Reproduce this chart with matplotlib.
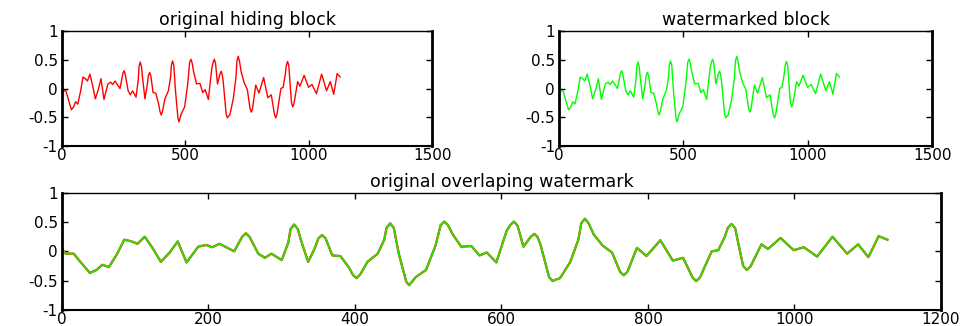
import matplotlib
matplotlib.use("Agg")
import matplotlib.pyplot as plt
from matplotlib.ticker import FixedLocator, FuncFormatter

# Signal samples (index, amplitude)
sample_idx = [1, 5, 16, 25, 38, 47, 55, 64, 75, 85, 95, 103, 113, 124, 135, 147,
              158, 170, 186, 197, 205, 215, 235, 246, 251, 256, 268, 277, 286, 300,
              309, 312, 317, 322, 326, 336, 345, 350, 355, 360, 369, 380, 392, 397,
              402, 407, 417, 431, 440, 443, 448, 453, 460, 470, 474, 483, 497, 510,
              517, 522, 527, 533, 545, 559, 570, 580, 593, 607, 612, 617, 622, 630,
              640, 645, 649, 653, 665, 670, 675, 680, 694, 705, 709, 714, 719, 726,
              738, 751, 762, 767, 772, 785, 798, 817, 834, 848, 861, 866, 871, 887,
              896, 905, 909, 914, 919, 924, 930, 935, 940, 955, 964, 981, 999, 1013,
              1031, 1052, 1072, 1087, 1101, 1115, 1127]
amplitude = [0.02, -0.04, -0.04, -0.18, -0.37, -0.32, -0.23, -0.27, -0.05, 0.20, 0.17,
             0.13, 0.25, 0.05, -0.18, -0.02, 0.17, -0.19, 0.08, 0.11, 0.07, 0.13, 0.00,
             0.25, 0.31, 0.25, -0.04, -0.11, -0.04, -0.15, 0.15, 0.38, 0.46, 0.38, 0.20,
             -0.18, 0.05, 0.22, 0.28, 0.22, -0.07, -0.08, -0.28, -0.40, -0.46, -0.40,
             -0.18, -0.04, 0.20, 0.40, 0.48, 0.40, -0.05, -0.52, -0.58, -0.44, -0.32,
             0.10, 0.45, 0.51, 0.45, 0.30, 0.08, 0.09, -0.07, -0.02, -0.19, 0.35, 0.45,
             0.51, 0.44, 0.08, 0.25, 0.30, 0.25, 0.13, -0.44, -0.51, -0.48, -0.46, -0.18,
             0.20, 0.48, 0.56, 0.48, 0.29, 0.10, -0.02, -0.35, -0.41, -0.35, 0.06, -0.08,
             0.19, -0.16, -0.11, -0.45, -0.51, -0.45, 0.00, 0.02, 0.25, 0.40, 0.47, 0.40,
             0.10, -0.25, -0.32, -0.26, 0.12, 0.04, 0.23, 0.02, 0.07, -0.09, 0.25, -0.04,
             0.12, -0.10, 0.26, 0.20]

titles = ["original hiding block", "watermarked block", "original overlaping watermark"]
top_xticks = [0, 500, 1000, 1500]
bottom_xticks = [0, 200, 400, 600, 800, 1000, 1200]
yticks = [-1, -0.5, 0, 0.5, 1]

plt.rcParams['font.family'] = ['DejaVu Sans']
plt.rcParams['axes.unicode_minus'] = False

fig = plt.figure(figsize=(9.69, 3.26), dpi=100)
ax1 = fig.add_axes([0.064, 0.552, 0.382, 0.353])
ax2 = fig.add_axes([0.577, 0.552, 0.385, 0.353])
ax3 = fig.add_axes([0.064, 0.050, 0.907, 0.358])

fmt = FuncFormatter(lambda v, p: ('%g' % v))

def style(ax, xt, title):
    ax.set_ylim(-1, 1)
    ax.set_xlim(xt[0], xt[-1])
    ax.xaxis.set_major_locator(FixedLocator(xt))
    ax.yaxis.set_major_locator(FixedLocator(yticks))
    ax.xaxis.set_major_formatter(fmt)
    ax.yaxis.set_major_formatter(fmt)
    ax.tick_params(direction='in', length=4, width=1, top=True, right=True,
                   labelsize=11, pad=3, colors='black')
    ax.tick_params(axis='x', pad=1.5)
    for s in ['left', 'right']:
        ax.spines[s].set_linewidth(2.0)
    ax.spines['bottom'].set_linewidth(1.5)
    ax.spines['top'].set_linewidth(1.0)
    ax.set_title(title, fontsize=12.5, pad=4)

ax1.plot(sample_idx, amplitude, color='#ff0000', lw=1.0)
style(ax1, top_xticks, titles[0])
ax2.plot(sample_idx, amplitude, color='#00ff00', lw=1.0)
style(ax2, top_xticks, titles[1])
ax3.plot(sample_idx, amplitude, color='#ff0000', lw=1.6)
ax3.plot(sample_idx, amplitude, color='#33dd00', lw=1.4)
style(ax3, bottom_xticks, titles[2])

fig.savefig('out.png', dpi=100)
